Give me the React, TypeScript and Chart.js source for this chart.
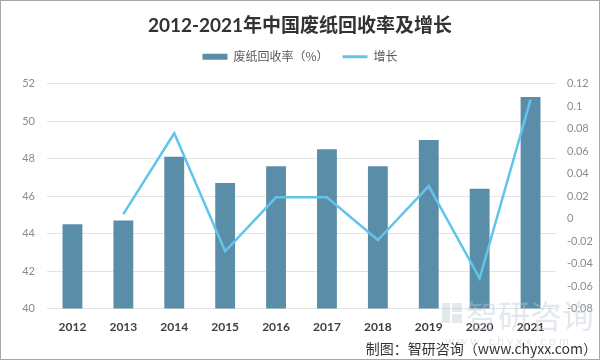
import React, { useEffect, useRef } from "react";
import { Chart, registerables } from "chart.js";

Chart.register(...registerables);

const years = ["2012", "2013", "2014", "2015", "2016", "2017", "2018", "2019", "2020", "2021"];
const recoveryRate = [44.5, 44.7, 48.1, 46.7, 47.6, 48.5, 47.6, 49.0, 46.4, 51.3];
const growth = [null, 0.004, 0.076, -0.029, 0.019, 0.019, -0.019, 0.029, -0.053, 0.106];
const titleText = "2012-2021年中国废纸回收率及增长";
const barLabel = "废纸回收率（%）";
const lineLabel = "增长";
const sourceText = "制图：智研咨询（www.chyxx.com）";
const watermarkText = "智研咨询";
const watermarkUrl = "w w w . c h y x x . c o m";

const FONT = "Lato, 'Noto Sans CJK SC', sans-serif";
const CJK = "'Noto Sans CJK SC', sans-serif";
const BAR_COLOR = "#5a8ea8";
const LINE_COLOR = "#62c4ea";

const decorPlugin = {
  id: "decor",
  beforeInit(chart: any) {
    const legend = chart.legend;
    if (legend) {
      const orig = legend.fit;
      legend.fit = function () {
        orig.call(legend);
        legend.height += 11;
      };
    }
  },
  afterDatasetsDraw(chart: any) {
    const ctx = chart.ctx;
    ctx.save();
    // watermark
    ctx.fillStyle = "rgba(185,198,212,0.4)";
    ctx.fillRect(442, 303, 8, 20);
    ctx.fillRect(452, 303, 10, 9);
    ctx.fillRect(452, 314, 10, 9);
    ctx.font = "32px " + CJK;
    ctx.textBaseline = "middle";
    ctx.textAlign = "left";
    ctx.fillText(watermarkText, 466, 316);
    ctx.font = "12px " + FONT;
    ctx.fillStyle = "rgba(185,198,212,0.45)";
    ctx.fillText(watermarkUrl, 445, 341);
    ctx.restore();
  },
  afterDraw(chart: any) {
    const ctx = chart.ctx;
    ctx.save();
    ctx.font = "14px " + CJK;
    ctx.fillStyle = "#333333";
    ctx.textAlign = "right";
    ctx.textBaseline = "middle";
    ctx.fillText(sourceText, 597, 349);
    ctx.strokeStyle = "#a6a6a6";
    ctx.lineWidth = 1;
    ctx.strokeRect(0.5, 0.5, 599, 359);
    ctx.restore();
  },
};

export default function App() {
  const ref = useRef<HTMLCanvasElement | null>(null);

  useEffect(() => {
    document.body.style.margin = "0";
    const canvas = ref.current;
    if (!canvas) return;
    const chart = new Chart(canvas, {
      type: "bar",
      data: {
        labels: years,
        datasets: [
          {
            type: "bar",
            label: barLabel,
            data: recoveryRate,
            backgroundColor: BAR_COLOR,
            borderWidth: 0,
            barPercentage: 0.39,
            categoryPercentage: 1,
            yAxisID: "y",
            order: 2,
          },
          {
            type: "line",
            label: lineLabel,
            data: growth as any,
            borderColor: LINE_COLOR,
            backgroundColor: LINE_COLOR,
            borderWidth: 2.5,
            pointRadius: 0,
            tension: 0,
            yAxisID: "y1",
            order: 1,
          } as any,
        ],
      },
      options: {
        animation: false,
        responsive: false,
        maintainAspectRatio: false,
        layout: { padding: { left: 0, right: 0, top: 0, bottom: 15 } },
        plugins: {
          title: {
            display: true,
            text: titleText,
            color: "#333333",
            font: { family: FONT, size: 19, weight: "bold" },
            padding: { top: 14, bottom: 0 },
          },
          legend: {
            display: true,
            labels: {
              usePointStyle: true,
              pointStyleWidth: 25,
              boxHeight: 6,
              padding: 14,
              color: "#595959",
              font: { family: CJK, size: 12 },
              sort: (a: any, b: any) => a.datasetIndex - b.datasetIndex,
              generateLabels: (c: any) => {
                const items = Chart.defaults.plugins.legend.labels.generateLabels(c);
                items.forEach((it: any) => {
                  if (it.datasetIndex === 0) {
                    it.pointStyle = "rect";
                    it.lineWidth = 0;
                    it.fillStyle = BAR_COLOR;
                    it.strokeStyle = BAR_COLOR;
                  } else {
                    it.pointStyle = "line";
                    it.lineWidth = 3;
                    it.strokeStyle = LINE_COLOR;
                  }
                });
                return items;
              },
            },
          },
          tooltip: { enabled: false },
        },
        scales: {
          x: {
            grid: { display: false, drawTicks: false },
            border: { display: false },
            ticks: {
              color: "#404040",
              font: { family: FONT, size: 12, weight: "bold" },
              padding: 11,
              maxRotation: 0,
            },
          },
          y: {
            position: "left",
            min: 40,
            max: 52,
            grid: { color: "#e3e3e3", drawTicks: false },
            border: { display: false },
            ticks: {
              stepSize: 2,
              padding: 12,
              color: "#8c8c8c",
              font: { family: FONT, size: 11 },
            },
            afterFit: (s: any) => {
              s.width = 47;
            },
          },
          y1: {
            position: "right",
            min: -0.08,
            max: 0.12,
            grid: { drawOnChartArea: false, drawTicks: false },
            border: { display: false },
            ticks: {
              stepSize: 0.02,
              padding: 11,
              color: "#8c8c8c",
              font: { family: FONT, size: 11 },
              callback: (v: any) => String(Number(Number(v).toFixed(2))),
            },
            afterFit: (s: any) => {
              s.width = 44;
            },
          },
        },
      } as any,
      plugins: [decorPlugin],
    });
    return () => chart.destroy();
  }, []);

  return (
    <div style={{ position: "absolute", left: 0, top: 0, width: 600, height: 360, background: "#fff" }}>
      <canvas ref={ref} width={600} height={360} style={{ width: 600, height: 360, display: "block" }} />
    </div>
  );
}
